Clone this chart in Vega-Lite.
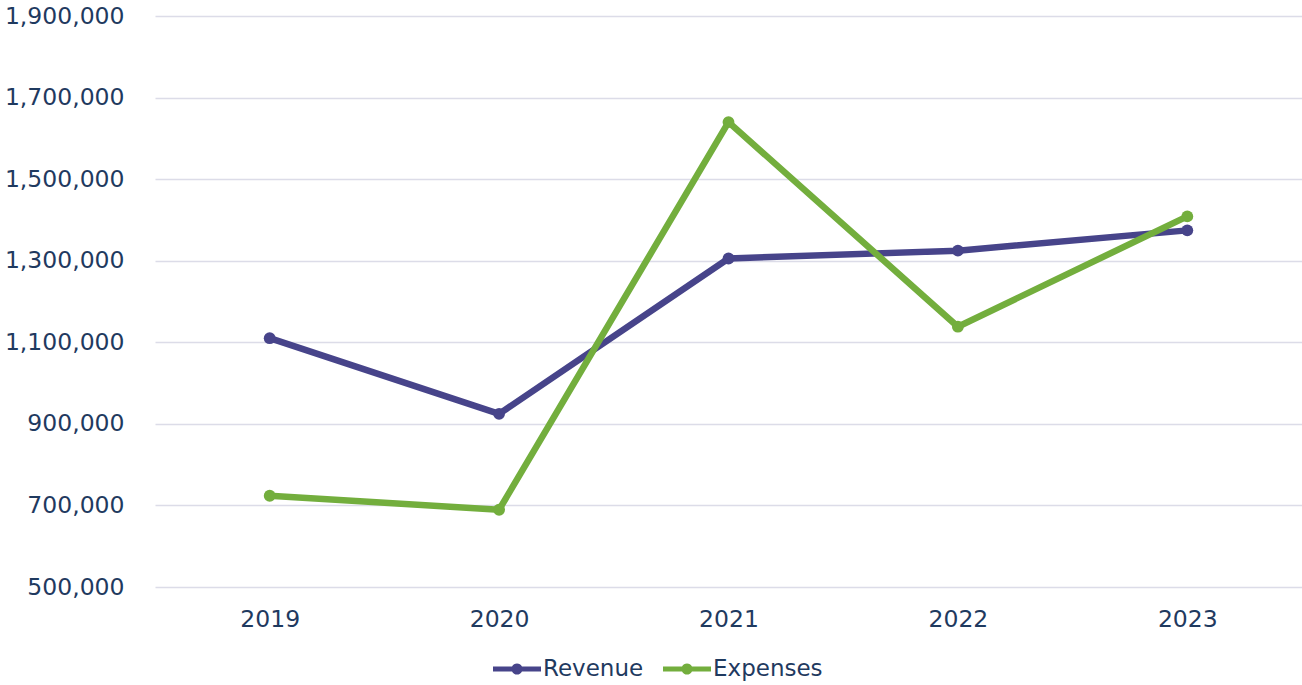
{
  "$schema": "https://vega.github.io/schema/vega-lite/v6.json",
  "autosize": {"type": "none"},
  "width": 1147,
  "height": 571,
  "padding": {"left": 155, "top": 16, "right": 0, "bottom": 98},
  "background": "#ffffff",
  "config": {
    "view": {"stroke": null},
    "font": "DejaVu Sans"
  },
  "data": {
    "values": [
      {"year": "2019", "series": "Revenue", "value": 1110000},
      {"year": "2020", "series": "Revenue", "value": 924500},
      {"year": "2021", "series": "Revenue", "value": 1305500},
      {"year": "2022", "series": "Revenue", "value": 1324700},
      {"year": "2023", "series": "Revenue", "value": 1374400},
      {"year": "2019", "series": "Expenses", "value": 723700},
      {"year": "2020", "series": "Expenses", "value": 689500},
      {"year": "2021", "series": "Expenses", "value": 1639800},
      {"year": "2022", "series": "Expenses", "value": 1138200},
      {"year": "2023", "series": "Expenses", "value": 1408700}
    ]
  },
  "mark": {
    "type": "line",
    "strokeWidth": 6.5,
    "strokeJoin": "round",
    "strokeCap": "round",
    "point": {"filled": true, "size": 140, "strokeWidth": 0}
  },
  "encoding": {
    "x": {
      "field": "year",
      "type": "ordinal",
      "scale": {"type": "point", "padding": 0.5},
      "axis": {
        "title": null,
        "labelAngle": 0,
        "domain": false,
        "ticks": false,
        "grid": false,
        "labelFont": "DejaVu Sans",
        "labelFontSize": 23.5,
        "labelColor": "#1f3a5f",
        "labelPadding": 20
      }
    },
    "y": {
      "field": "value",
      "type": "quantitative",
      "scale": {"domain": [500000, 1900000], "nice": false, "zero": false},
      "axis": {
        "title": null,
        "values": [500000, 700000, 900000, 1100000, 1300000, 1500000, 1700000, 1900000],
        "format": ",d",
        "domain": false,
        "ticks": false,
        "grid": true,
        "gridColor": "#dcdce8",
        "gridWidth": 1.5,
        "labelFont": "DejaVu Sans",
        "labelFontSize": 23.5,
        "labelColor": "#1f3a5f",
        "labelPadding": 31,
        "labelFlush": false
      }
    },
    "color": {
      "field": "series",
      "type": "nominal",
      "scale": {"domain": ["Revenue", "Expenses"], "range": ["#47448a", "#73ae3d"]},
      "legend": {
        "title": null,
        "orient": "none",
        "direction": "horizontal",
        "legendX": 338,
        "legendY": 629,
        "symbolType": "M-1,-0.1 L-0.207,-0.1 A0.23,0.23 0 0 1 0.207,-0.1 L1,-0.1 L1,0.1 L0.207,0.1 A0.23,0.23 0 0 1 -0.207,0.1 L-1,0.1 Z",
        "symbolSize": 2304,
        "symbolStrokeWidth": 0,
        "labelOffset": 2,
        "columnPadding": 19,
        "labelFont": "DejaVu Sans",
        "labelFontSize": 23,
        "labelColor": "#1f3a5f",
        "encode": {
          "symbols": {
            "update": {
              "fill": {"scale": "color", "field": "value"},
              "stroke": {"value": "transparent"},
              "fillOpacity": {"value": 1}
            }
          }
        }
      }
    }
  }
}
